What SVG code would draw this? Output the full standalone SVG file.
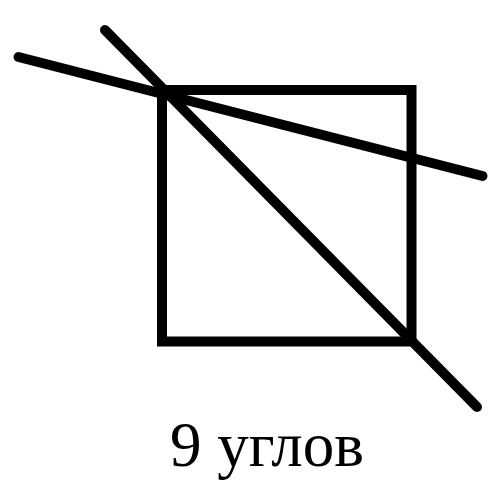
<svg xmlns="http://www.w3.org/2000/svg" width="500" height="497" viewBox="0 0 500 497">
<style>
.s{fill:none;stroke:#000;stroke-width:10;stroke-linecap:round}
.t{font-family:"Liberation Serif","DejaVu Serif",serif;font-size:63px;fill:#000}
</style>
<rect width="500" height="497" fill="#fff"/>
<g id="square"><rect class="s" x="162" y="90" width="249.5" height="251.5" style="stroke-linecap:butt"/></g>
<g id="connectors">
<line class="s" x1="18.5" y1="57" x2="482.5" y2="176"/>
<line class="s" x1="105" y1="30" x2="477" y2="407"/>
</g>
<g id="label"><text class="t" x="267" y="466" text-anchor="middle">9 углов</text></g>
</svg>
